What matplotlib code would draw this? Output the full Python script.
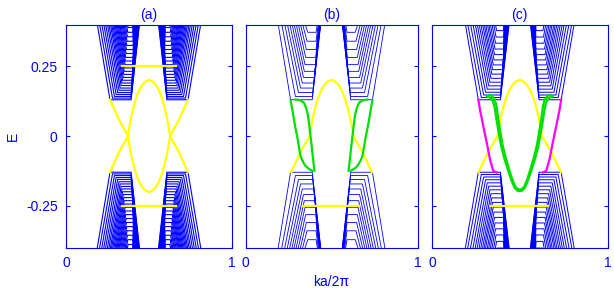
import numpy as np
import matplotlib
matplotlib.use("Agg")
import matplotlib.pyplot as plt

plt.rcParams['font.family'] = ['Liberation Sans', 'DejaVu Sans']

# subbands of the upper-left cluster: bottom energy, bottom edges, edges at E_top
E_top = 0.42
Ea = [0.130, 0.136, 0.142, 0.149, 0.156, 0.164, 0.172, 0.181, 0.190, 0.200, 0.210, 0.221, 0.232,
      0.244, 0.256, 0.269, 0.282, 0.296, 0.310, 0.325, 0.340, 0.356, 0.372, 0.389, 0.406]
kLb_a = [0.265, 0.280, 0.292, 0.302, 0.311, 0.319, 0.326, 0.332, 0.337, 0.341, 0.345, 0.348, 0.351,
         0.354, 0.356, 0.358, 0.360, 0.362, 0.364, 0.366, 0.368, 0.370, 0.372, 0.374, 0.376]
kRb_a = [0.392, 0.392, 0.392, 0.393, 0.393, 0.394, 0.395, 0.396, 0.397, 0.398, 0.399, 0.400, 0.401,
         0.402, 0.403, 0.404, 0.405, 0.405, 0.405, 0.405, 0.404, 0.403, 0.402, 0.401, 0.400]
kLt_a = [0.183, 0.197, 0.210, 0.222, 0.233, 0.244, 0.253, 0.262, 0.269, 0.276, 0.283, 0.290, 0.296,
         0.302, 0.308, 0.314, 0.319, 0.325, 0.332, 0.338, 0.344, 0.351, 0.358, 0.365, 0.372]
kRt_a = [0.446, 0.444, 0.442, 0.440, 0.438, 0.436, 0.434, 0.432, 0.430, 0.428, 0.426, 0.424, 0.422,
         0.420, 0.418, 0.416, 0.414, 0.413, 0.412, 0.410, 0.409, 0.408, 0.407, 0.405, 0.403]

Eb = [0.130, 0.142, 0.156, 0.172, 0.190, 0.210, 0.232, 0.256, 0.282, 0.310, 0.340, 0.372, 0.405]
kLb_b = [0.262, 0.290, 0.308, 0.320, 0.330, 0.337, 0.342, 0.346, 0.350, 0.354, 0.358, 0.362, 0.366]
kRb_b = [0.388, 0.389, 0.391, 0.394, 0.397, 0.400, 0.403, 0.406, 0.408, 0.410, 0.410, 0.410, 0.410]
kLt_b = [0.185, 0.205, 0.222, 0.237, 0.251, 0.264, 0.276, 0.288, 0.300, 0.312, 0.324, 0.336, 0.350]
kRt_b = [0.441, 0.440, 0.439, 0.438, 0.437, 0.436, 0.435, 0.434, 0.432, 0.430, 0.427, 0.423, 0.418]

Ec = [0.130, 0.138, 0.147, 0.157, 0.168, 0.180, 0.193, 0.207, 0.222, 0.238, 0.255, 0.273, 0.292,
      0.312, 0.333, 0.355, 0.378, 0.402]
kLb_c = [0.264, 0.281, 0.294, 0.305, 0.315, 0.323, 0.330, 0.336, 0.341, 0.345, 0.349, 0.353, 0.356,
         0.359, 0.362, 0.365, 0.368, 0.371]
kRb_c = [0.390, 0.390, 0.391, 0.392, 0.393, 0.394, 0.396, 0.398, 0.400, 0.402, 0.404, 0.406, 0.407,
         0.408, 0.408, 0.408, 0.407, 0.406]
kLt_c = [0.185, 0.198, 0.214, 0.228, 0.241, 0.252, 0.263, 0.273, 0.283, 0.292, 0.300, 0.310, 0.318,
         0.327, 0.336, 0.346, 0.356, 0.366]
kRt_c = [0.443, 0.441, 0.439, 0.437, 0.435, 0.433, 0.431, 0.429, 0.427, 0.425, 0.423, 0.421, 0.419,
         0.417, 0.415, 0.413, 0.411, 0.409]

# edge states (left half, mirrored about k = 0.5)
loop_k = [0.265, 0.275, 0.288, 0.300, 0.320, 0.340, 0.357, 0.373, 0.381, 0.390, 0.401, 0.414,
          0.428, 0.443, 0.460, 0.480, 0.500]
loop_E = [0.130, 0.117, 0.100, 0.084, 0.058, 0.036, 0.018, 0.000, -0.030, -0.060, -0.090, -0.120,
          -0.146, -0.167, -0.184, -0.196, -0.201]
flat_k = [0.335, 0.660]

green_b1_k = [0.262, 0.272, 0.281, 0.290, 0.300, 0.310, 0.320, 0.334, 0.349, 0.368, 0.388]
green_b1_E = [0.128, 0.095, 0.060, 0.030, 0.000, -0.036, -0.072, -0.092, -0.107, -0.118, -0.125]
green_b2_k = [0.291, 0.315, 0.339, 0.353, 0.364, 0.371, 0.378, 0.385, 0.391, 0.396, 0.401]
green_b2_E = [0.131, 0.129, 0.120, 0.100, 0.072, 0.036, 0.000, -0.036, -0.072, -0.100, -0.125]

mag_c_k = [0.264, 0.273, 0.292, 0.312, 0.330, 0.349, 0.369]
mag_c_E = [0.131, 0.095, 0.036, -0.024, -0.083, -0.125, -0.131]
green_c_k = [0.312, 0.330, 0.347, 0.358, 0.367, 0.380, 0.394, 0.412, 0.432, 0.452, 0.470, 0.486, 0.500]
green_c_E = [0.141, 0.138, 0.125, 0.100, 0.060, 0.012, -0.036, -0.080, -0.120, -0.158, -0.185,
             -0.196, -0.198]

blue = '#0000ff'
yellow = '#ffff00'
green = '#00e000'
magenta = '#ff00ff'
lw_e = 1.6


def mirror(k, E):
    k = np.asarray(k)
    E = np.asarray(E)
    return np.concatenate([k, 1 - k[::-1][1:]]), np.concatenate([E, E[::-1][1:]])


def draw_bands(ax, E, kLb, kRb, kLt, kRt, lw):
    for e, lb, rb, lt, rt in zip(E, kLb, kRb, kLt, kRt):
        k = np.array([lt, lb, rb, rt])
        y = np.array([E_top, e, e, E_top])
        for kk in (k, 1 - k):
            ax.plot(kk, y, color=blue, lw=lw)
            ax.plot(kk, -y, color=blue, lw=lw)


fig = plt.figure(figsize=(6.14, 2.88), dpi=100)
W, H = 614, 288
boxes = [(66, 166), (245.5, 172), (432, 175.5)]
axs = []
for x0, w in boxes:
    axs.append(fig.add_axes([x0 / W, (288 - 247.5) / H, w / W, 223 / H]))

draw_bands(axs[0], Ea, kLb_a, kRb_a, kLt_a, kRt_a, 0.8)
draw_bands(axs[1], Eb, kLb_b, kRb_b, kLt_b, kRt_b, 0.6)
draw_bands(axs[2], Ec, kLb_c, kRb_c, kLt_c, kRt_c, 0.7)

lk, lE = mirror(loop_k, loop_E)
# (a)
axs[0].plot(lk, lE, color=yellow, lw=lw_e)
axs[0].plot(lk, -lE, color=yellow, lw=lw_e)
axs[0].plot(flat_k, [0.25, 0.25], color=yellow, lw=lw_e)
axs[0].plot(flat_k, [-0.25, -0.25], color=yellow, lw=lw_e)
# (b)
axs[1].plot(lk, -lE, color=yellow, lw=lw_e)
axs[1].plot(flat_k, [-0.25, -0.25], color=yellow, lw=lw_e)
for gk, gE in ((green_b1_k, green_b1_E), (green_b2_k, green_b2_E)):
    gk = np.array(gk)
    axs[1].plot(gk, gE, color=green, lw=lw_e)
    axs[1].plot(1 - gk, gE, color=green, lw=lw_e)
# (c)
mk = np.array(mag_c_k)
axs[2].plot(lk, -lE, color=yellow, lw=lw_e)
axs[2].plot(flat_k, [-0.25, -0.25], color=yellow, lw=lw_e)
axs[2].plot(mk, mag_c_E, color=magenta, lw=lw_e)
axs[2].plot(1 - mk, mag_c_E, color=magenta, lw=lw_e)
gk, gE = mirror(green_c_k, green_c_E)
axs[2].plot(gk, gE, color=green, lw=lw_e)
axs[2].plot(0.5 + (gk - 0.5) * 0.93, gE + 0.006, color=green, lw=lw_e)

for i, (ax, t) in enumerate(zip(axs, ['(a)', '(b)', '(c)'])):
    ax.set_xlim(0, 1)
    ax.set_ylim(-0.4, 0.4)
    ax.set_xticks([0, 1])
    ax.set_xticklabels(['0', '1'])
    ax.set_yticks([-0.25, 0, 0.25])
    if i == 0:
        ax.set_yticklabels(['-0.25', '0', '0.25'])
        ax.set_ylabel('E', color=blue, fontsize=10)
    else:
        ax.set_yticklabels([])
    ax.tick_params(direction='in', length=3, colors=blue, labelsize=10, right=True, top=True,
                   pad=6)
    for s in ax.spines.values():
        s.set_color(blue)
    ax.set_title(t, color=blue, fontsize=10, pad=4)

axs[1].set_xlabel('ka/2\u03c0', color=blue, fontsize=10)

fig.savefig('out.png', dpi=100)
